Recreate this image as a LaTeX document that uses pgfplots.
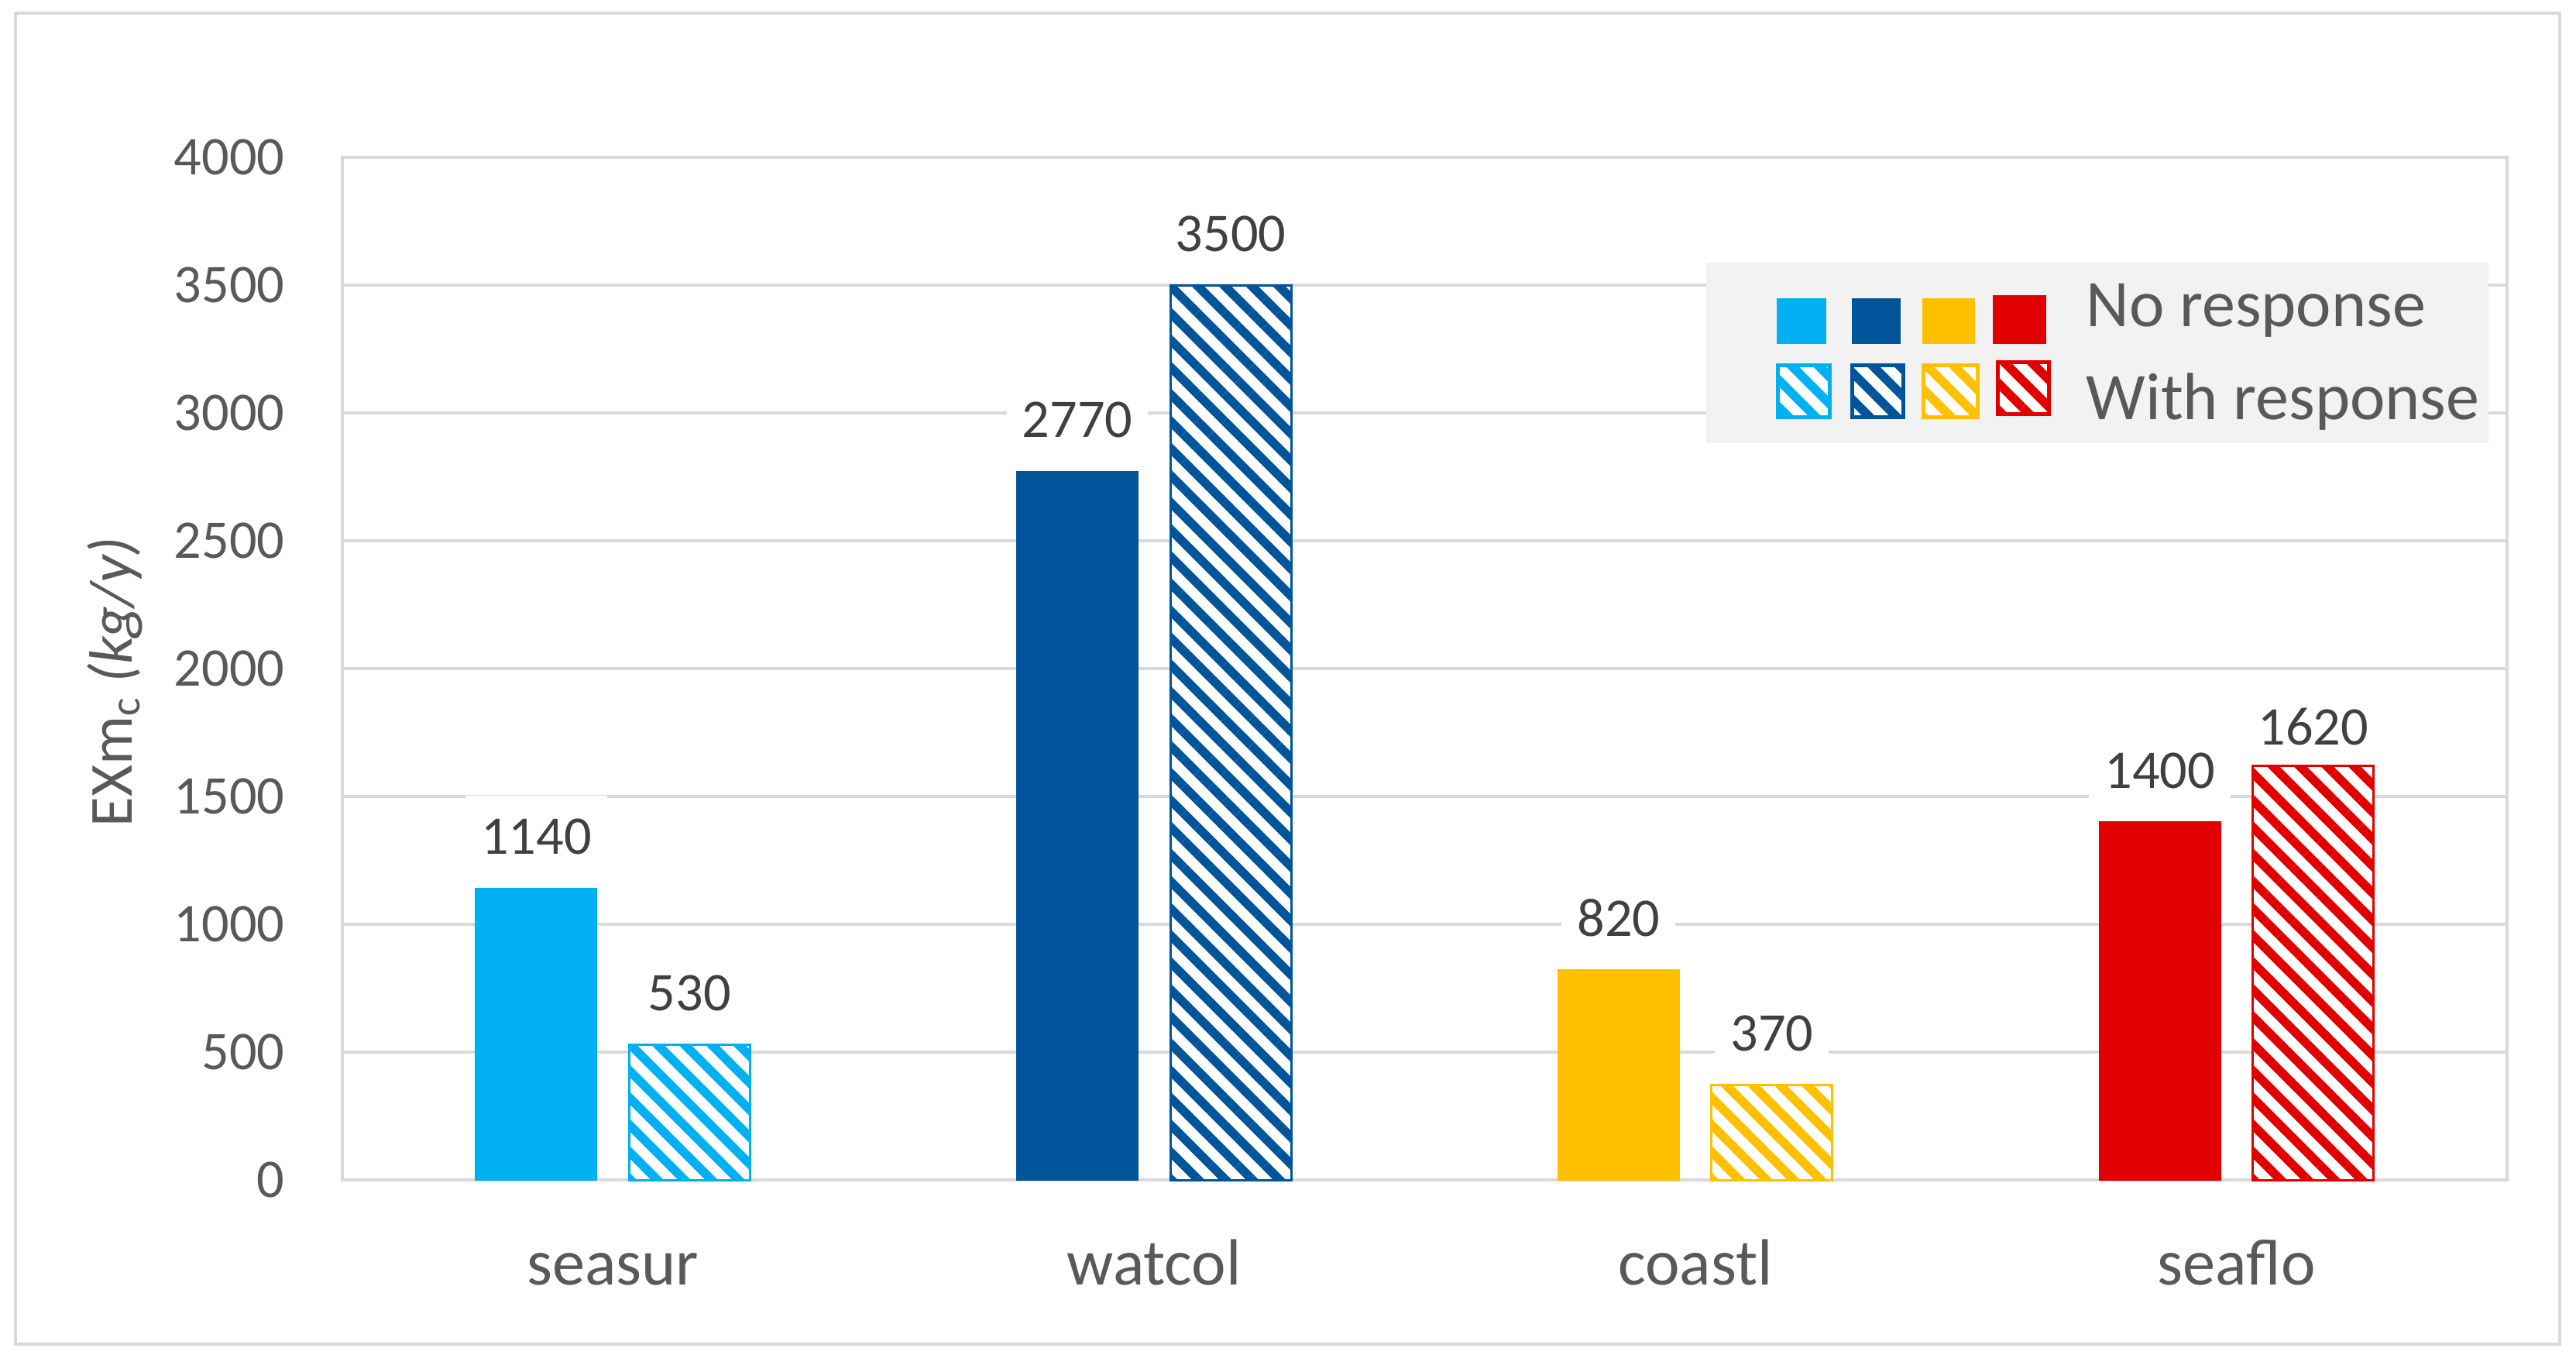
\documentclass[border=0pt]{standalone}
\usepackage{fontspec}
\setmainfont{Carlito}
\usepackage{pgfplots}
\pgfplotsset{compat=1.18}
\usetikzlibrary{patterns.meta}
\definecolor{cA}{HTML}{00B0F0}
\definecolor{cB}{HTML}{00549A}
\definecolor{cC}{HTML}{FFC000}
\definecolor{cD}{HTML}{E00000}
\definecolor{gridgray}{HTML}{D9D9D9}
\definecolor{ticktext}{HTML}{595959}
\definecolor{labeltext}{HTML}{404040}
\definecolor{legfill}{HTML}{F2F2F2}
\tikzset{
  solidbar/.style={fill=#1, draw=#1, line width=0.02cm},
  hatch/.style={fill=white, draw=#1, line width=0.03cm,
    postaction={pattern={Lines[angle=-45,distance=2.47mm,line width=1.15mm]}, pattern color=#1}},
}
\begin{document}
\begin{tikzpicture}[x=1cm,y=1cm]
\useasboundingbox (0,0) rectangle (33.26,17.57);
\draw[gridgray, line width=0.04cm] (0.20,0.22) rectangle (33.05,17.40);
\begin{axis}[
  at={(4.42cm,2.34cm)}, anchor=south west,
  scale only axis, width=27.95cm, height=13.20cm,
  xmin=-0.5, xmax=3.5, ymin=0, ymax=4000,
  xtick={0,1,2,3}, xticklabels={seasur,watcol,coastl,seaflo},
  ytick={0,500,...,4000},
  ymajorgrids, major grid style={draw=gridgray, line width=0.035cm},
  axis line style={draw=gridgray, line width=0.035cm},
  major tick length=0pt,
  /pgf/number format/assume math mode=true,
  /pgf/number format/1000 sep={},
  yticklabel style={anchor=east, inner sep=0pt, xshift=-0.74cm, font=\fontsize{20}{24}\selectfont, text=ticktext},
  xticklabel style={anchor=base, inner sep=0pt, yshift=-1.35cm, font=\fontsize{24}{28}\selectfont, text=ticktext},
  ylabel={EXm\textsubscript{c} \textit{(kg/y)}},
  every axis y label/.style={at={(axis description cs:-0.0973,0.487)}, rotate=90, anchor=base, font=\fontsize{22.5}{27}\selectfont, text=ticktext},
  ybar, bar width=1.56cm,
  nodes near coords,
  every node near coord/.append style={anchor=base, yshift=0.44cm, fill=white, inner xsep=0.2cm, inner ysep=0.3cm, font=\fontsize{20}{24}\selectfont, text=labeltext},
  clip=false,
]
% seasur
\addplot[solidbar=cA, bar shift=-0.99cm] coordinates {(0,1140)};
\addplot[hatch=cA, bar shift=0.99cm] coordinates {(0,530)};
% watcol
\addplot[solidbar=cB, bar shift=-0.99cm] coordinates {(1,2770)};
\addplot[hatch=cB, bar shift=0.99cm] coordinates {(1,3500)};
% coastl
\addplot[solidbar=cC, bar shift=-0.99cm] coordinates {(2,820)};
\addplot[hatch=cC, bar shift=0.99cm] coordinates {(2,370)};
% seaflo
\addplot[solidbar=cD, bar shift=-0.99cm] coordinates {(3,1400)};
\addplot[hatch=cD, bar shift=0.99cm, nodes near coords style={yshift=-0.17cm, inner ysep=0.15cm}] coordinates {(3,1620)};
\end{axis}
% legend
\fill[legfill] (22.03,11.85) rectangle (32.13,14.18);
\fill[cA] (22.94,13.13) rectangle (23.58,13.72);
\fill[cB] (23.91,13.13) rectangle (24.54,13.72);
\fill[cC] (24.82,13.13) rectangle (25.50,13.72);
\fill[cD] (25.73,13.13) rectangle (26.42,13.76);
\path[hatch=cA, line width=0.05cm] (22.95,12.18) rectangle (23.62,12.85);
\path[hatch=cB, line width=0.05cm] (23.91,12.18) rectangle (24.57,12.85);
\path[hatch=cC, line width=0.05cm] (24.83,12.18) rectangle (25.53,12.85);
\path[hatch=cD, line width=0.05cm] (25.79,12.22) rectangle (26.45,12.89);
\node[anchor=base west, inner sep=0pt, text=ticktext, font=\fontsize{24.5}{29}\selectfont] at (26.93,13.35) {No response};
\node[anchor=base west, inner sep=0pt, text=ticktext, font=\fontsize{24.5}{29}\selectfont] at (26.93,12.15) {With response};
\end{tikzpicture}
\end{document}
